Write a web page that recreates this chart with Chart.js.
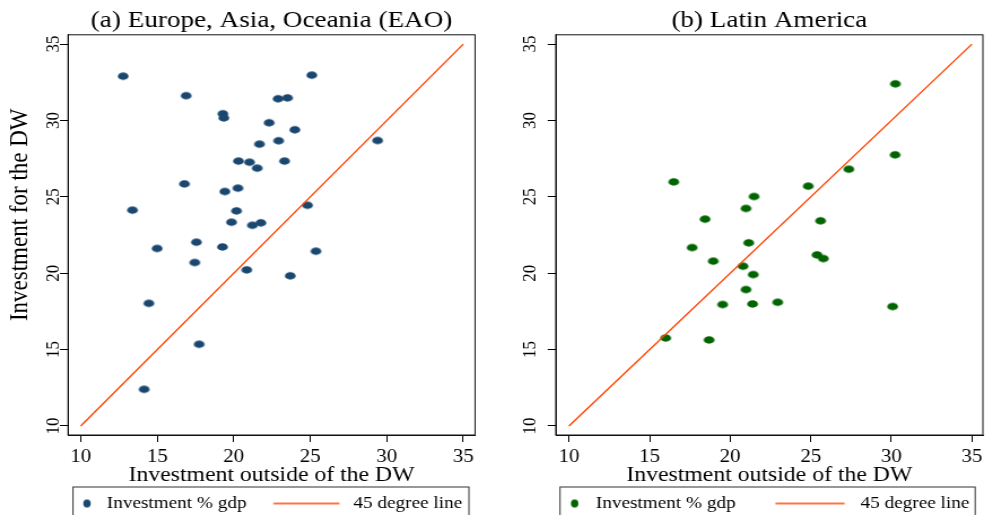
<!DOCTYPE html>
<html><head><meta charset="utf-8">
<script src="https://cdn.jsdelivr.net/npm/chart.js@4.4.1/dist/chart.umd.min.js"></script>
<style>
html,body{margin:0;padding:0;background:#fff;width:988px;height:515px;overflow:hidden;}
canvas{position:absolute;top:0;transform-origin:0 0;transform:scaleX(1.13);}
#c1{left:0;}
#c2{left:471px;}
</style></head><body>
<canvas id="c1" width="437" height="522"></canvas>
<canvas id="c2" width="458" height="522"></canvas>
<script>
// ---- data ----
const tickValues = [10, 15, 20, 25, 30, 35];
const eaoX = [12.77, 25.10, 16.89, 22.90, 23.51, 19.29, 19.35, 22.31, 23.99, 21.68, 22.93, 29.40, 20.31, 21.03, 23.32, 21.53, 16.78, 20.27, 19.42, 13.38, 20.18, 24.82, 19.85, 21.22, 21.77, 17.56, 14.99, 19.26, 25.37, 17.45, 20.85, 23.69, 14.45, 17.74, 14.14];
const eaoY = [32.90, 32.97, 31.62, 31.42, 31.48, 30.44, 30.17, 29.85, 29.39, 28.45, 28.67, 28.69, 27.34, 27.27, 27.34, 26.88, 25.85, 25.57, 25.35, 24.13, 24.08, 24.45, 23.34, 23.14, 23.30, 22.03, 21.62, 21.72, 21.44, 20.70, 20.22, 19.83, 18.03, 15.35, 12.40];
const latX = [30.25, 30.23, 27.36, 16.50, 24.84, 21.48, 20.98, 18.44, 25.61, 21.15, 17.64, 18.95, 25.39, 25.78, 20.80, 21.43, 20.98, 19.53, 21.39, 22.95, 30.08, 16.00, 18.69];
const latY = [32.40, 27.75, 26.81, 25.98, 25.70, 25.02, 24.24, 23.54, 23.43, 21.99, 21.68, 20.79, 21.20, 20.96, 20.46, 19.91, 18.93, 17.95, 17.99, 18.10, 17.82, 15.76, 15.63];
const diagX = [10, 35];
const diagY = [10, 35];
const panelTitles = ['(a) Europe, Asia, Oceania (EAO)', '(b) Latin America'];
const xTitle = 'Investment outside of the DW';
const yTitle = 'Investment for the DW';
const seriesLabels = ['Investment % gdp', '45 degree line'];

// ---- style ----
const FONT = "'Liberation Serif', 'Times New Roman', serif";
const ORANGE = '#ff4500';
const BLUE = '#1a476f';
const GREEN = '#006400';
const Y_TITLE_LEAD = '\u00a0\u00a0\u00a0\u00a0\u00a0\u00a0\u00a0'; // shifts the rotated title upward, as in the original

function ellipseImg(w, h, cx, rx, ry, color) {
  const c = document.createElement('canvas'); c.width = w; c.height = h;
  const g = c.getContext('2d'); g.fillStyle = color;
  g.beginPath(); g.ellipse(cx, h / 2, rx, ry, 0, 0, Math.PI * 2); g.fill();
  return c;
}
function lineImg(w, h, x0, x1, color, lw) {
  const c = document.createElement('canvas'); c.width = w; c.height = h;
  const g = c.getContext('2d'); g.strokeStyle = color; g.lineWidth = lw;
  g.beginPath(); g.moveTo(x0, h / 2); g.lineTo(x1, h / 2); g.stroke();
  return c;
}

const framePlugin = {
  id: 'frame',
  afterDraw(chart, args, opts) {
    const {ctx, chartArea: a, legend} = chart;
    ctx.save();
    ctx.strokeStyle = '#111'; ctx.lineWidth = 1;
    ctx.strokeRect(a.left, a.top, a.right - a.left, a.bottom - a.top);
    ctx.strokeStyle = '#333';
    const lx = a.left + opts.l, rx = a.right - opts.r;
    ctx.strokeRect(lx, legend.top - 4, rx - lx, 80);
    ctx.restore();
  }
};

function makeChart(id, cfg) {
  const marker = ellipseImg(12, 10, 6, 4.8, 3.7, cfg.color);
  const legImgs = [
    ellipseImg(cfg.legW, 10, cfg.legDot, 3.3, 3.9, cfg.color),
    lineImg(cfg.legW, 6, cfg.legLineA, cfg.legLineB, ORANGE, 1.5)
  ];
  return new Chart(document.getElementById(id), {
    type: 'scatter',
    data: {
      datasets: [
        { type: 'scatter', label: seriesLabels[0],
          data: cfg.xs.map((x, i) => ({x: x, y: cfg.ys[i]})),
          pointStyle: marker, pointRadius: 5, backgroundColor: cfg.color, borderWidth: 0, order: 1 },
        { type: 'line', label: seriesLabels[1],
          data: diagX.map((x, i) => ({x: x, y: diagY[i]})),
          borderColor: ORANGE, borderWidth: 1.4, pointRadius: 0, fill: false, tension: 0, order: 0 }
      ]
    },
    options: {
      responsive: false, animation: false, events: [], devicePixelRatio: 1,
      layout: { padding: { left: 0, right: cfg.padRight, top: 0, bottom: 0 } },
      scales: {
        x: {
          type: 'linear', min: cfg.xMin, max: cfg.xMax,
          afterBuildTicks: s => { s.ticks = tickValues.map(v => ({value: v})); },
          afterFit: s => { s.height = 56; },
          grid: { display: true, drawOnChartArea: false, drawTicks: true, tickLength: 7, color: '#000', lineWidth: 1 },
          border: { display: true, color: '#111', width: 1 },
          ticks: { font: { family: FONT, size: 18.5 }, color: '#000', padding: 4, maxRotation: 0, minRotation: 0 },
          title: { display: true, text: xTitle, font: { family: FONT, size: 21 }, color: '#000', padding: { top: 0, bottom: 3 } }
        },
        y: {
          type: 'linear', min: 9.41, max: 35.61,
          afterBuildTicks: s => { s.ticks = tickValues.map(v => ({value: v})); },
          afterFit: s => { s.width = cfg.axisWidth; },
          grid: { display: true, drawOnChartArea: false, drawTicks: true, tickLength: 7.1, color: '#000', lineWidth: 1 },
          border: { display: true, color: '#111', width: 1 },
          ticks: { font: { family: FONT, size: 17 }, color: '#000', minRotation: 90, maxRotation: 90, crossAlign: 'center', padding: cfg.yTickPad },
          title: { display: cfg.showYTitle, text: Y_TITLE_LEAD + yTitle, font: { family: FONT, size: 23 }, color: '#000', padding: { top: 4.4, bottom: 0 } }
        }
      },
      plugins: {
        frame: { l: cfg.legBoxL, r: cfg.legBoxR },
        tooltip: { enabled: false },
        title: { display: true, text: cfg.title, fullSize: false, font: { family: FONT, size: 24, weight: 'normal' }, color: '#000', padding: { top: 6, bottom: 0 } },
        legend: {
          display: true, position: 'bottom', align: 'start',
          labels: {
            usePointStyle: true, pointStyleWidth: cfg.legW, padding: 4,
            font: { family: FONT, size: 17 }, color: '#000',
            generateLabels: chart => chart.data.datasets.map((ds, i) => ({
              text: ds.label, pointStyle: legImgs[i], fillStyle: cfg.color, strokeStyle: cfg.color,
              lineWidth: 0, hidden: false, datasetIndex: i, fontColor: '#000'
            }))
          }
        }
      }
    },
    plugins: [framePlugin]
  });
}

makeChart('c1', {
  xs: eaoX, ys: eaoY, color: BLUE, title: panelTitles[0], showYTitle: true,
  xMin: 9.17, xMax: 35.77, axisWidth: 60.2, padRight: 16.6, yTickPad: -2.7,
  legW: 82, legDot: 73, legLineA: 19.7, legLineB: 78.1, legBoxL: 4.4, legBoxR: 5.4
});
makeChart('c2', {
  xs: latX, ys: latY, color: GREEN, title: panelTitles[1], showYTitle: false,
  xMin: 9.18, xMax: 35.68, axisWidth: 75.0, padRight: 2.5, yTickPad: 7.2,
  legW: 98, legDot: 87.7, legLineA: 31.2, legLineB: 92.3, legBoxL: 3.8, legBoxR: 6.8
});
</script>
</body></html>
